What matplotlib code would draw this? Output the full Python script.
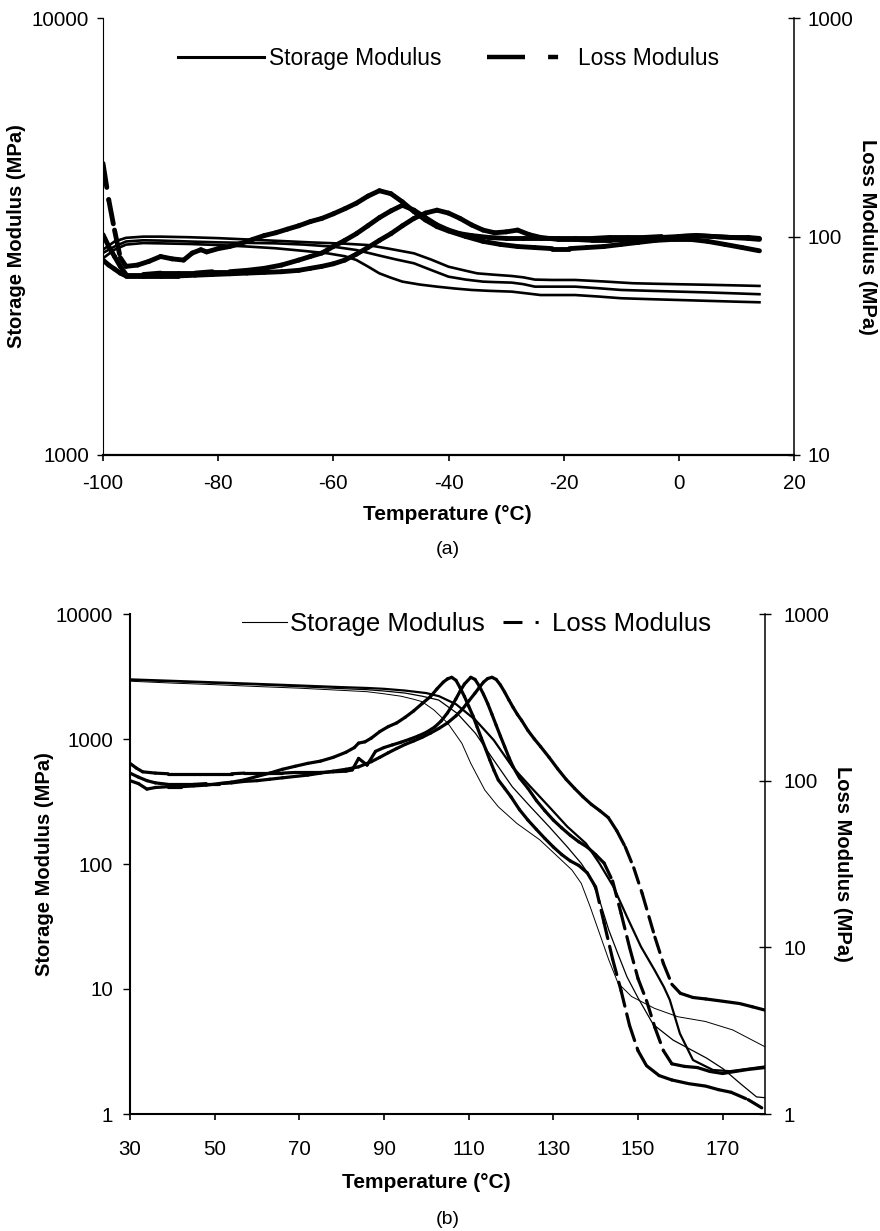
import matplotlib
matplotlib.use("Agg")
import matplotlib.pyplot as plt
from matplotlib.lines import Line2D
from matplotlib.ticker import NullLocator, FixedLocator, FixedFormatter

plt.rcParams['font.family'] = ['Liberation Sans', 'DejaVu Sans']

# ---------------- Panel (a): low-temperature DMA ----------------
a_T_S1 = [-100, -98, -96, -93, -90, -85, -80, -73, -64, -58, -54, -50, -46, -43, -40, -37, -35, -32, -29, -27,
          -25, -22, -18, -13, -8, -4, 0, 5, 10, 14]
a_S1 = [2950, 3080, 3140, 3160, 3160, 3150, 3135, 3105, 3066, 3045, 3023, 2960, 2894, 2800, 2697, 2640, 2604, 2585,
        2568, 2550, 2520, 2515, 2515, 2495, 2472, 2465, 2459, 2452, 2444, 2437]
a_T_S2 = [-100, -98, -96, -93, -90, -85, -80, -75, -70, -65, -60, -56, -52, -49, -46, -43, -40, -37, -34, -32,
          -29, -27, -25, -22, -18, -14, -10, -5, 0, 5, 10, 14]
a_S2 = [2900, 3000, 3080, 3100, 3095, 3080, 3066, 3058, 3050, 3030, 2997, 2945, 2860, 2800, 2746, 2650, 2559, 2520,
        2493, 2487, 2480, 2460, 2428, 2428, 2428, 2408, 2386, 2375, 2365, 2355, 2343, 2333]
a_T_S3 = [-100, -98, -96, -93, -90, -85, -80, -75, -70, -65, -61, -58, -56, -54, -52, -50, -48, -45, -42, -39,
          -36, -33, -29, -26, -24, -18, -14, -10, -5, 0, 5, 10, 14]
a_S3 = [2820, 2950, 3030, 3055, 3050, 3040, 3023, 3000, 2972, 2930, 2894, 2850, 2794, 2700, 2604, 2545, 2493, 2455,
        2428, 2405, 2386, 2375, 2365, 2340, 2323, 2323, 2305, 2284, 2273, 2263, 2253, 2243, 2236]

a_T_L1 = [-100, -99, -98, -97, -96, -94, -92, -90, -88, -86, -84.5, -83, -82, -80, -78, -76, -74, -72, -70, -68,
          -66, -64, -62, -60, -58, -56, -54, -52, -50, -48, -46, -44, -42, -40, -37, -34, -31, -28, -25, -22,
          -19, -16, -13, -10, -7, -4, -1, 2, 5, 8, 11, 14]
a_L1 = [216, 147, 107, 80, 73, 74, 77, 81, 79, 78, 84, 87, 85, 88, 90, 93, 97, 101, 104, 108,
        112, 117, 121, 127, 134, 142, 153, 162, 157, 144, 130, 119, 111, 106, 100, 95, 92, 90, 89, 88,
        88, 89, 90, 92, 94, 96, 97, 97, 95, 92, 89, 86]
a_T_L2 = [-100, -99, -98, -97, -96, -93, -90, -87, -84, -81, -78, -75, -72, -69, -66, -64, -62, -60, -58, -56,
          -54, -52, -50, -48, -46, -44, -42, -40, -38, -36, -33, -30, -27, -24, -21, -18, -15, -12, -9, -6,
          -3, 0, 3, 6, 9, 12, 14]
a_L2 = [102, 90, 81, 73, 67, 67, 68, 68, 68, 69, 69, 70, 71.5, 74, 78, 81, 84, 90, 96, 103,
        112, 122, 131, 139, 132, 122, 113, 107, 103, 101, 99, 98, 98, 98, 98, 98, 98, 99, 99, 99,
        100, 100, 101, 100, 99, 99, 98]
a_T_L3 = [-100, -99, -98, -97, -96, -93, -90, -87, -84, -81, -78, -75, -72, -69, -66, -64, -62, -60, -58, -56,
          -54, -52, -50, -48, -46, -44, -42, -40, -38, -36, -34, -32, -30, -28, -26, -24, -21, -18, -15, -12,
          -9, -6, -3, 0, 3, 6, 9, 12, 14]
a_L3 = [78, 74, 71, 68, 66, 66, 66, 66, 66.5, 67, 67.5, 68, 68.5, 69, 70, 71.5, 73, 75, 78, 83,
        89, 96, 103, 112, 121, 128, 132, 128, 121, 113, 107, 104, 105, 107, 102, 99, 97, 97, 96, 96,
        97, 98, 99, 100, 101, 100, 99, 98, 97]

a_xticks = [-100, -80, -60, -40, -20, 0, 20]
a_left_ticks = [1000, 10000]
a_right_ticks = [10, 100, 1000]

# ---------------- Panel (b): high-temperature DMA ----------------
b_T_S1 = [30, 40, 50, 60, 70, 80, 86, 90, 94, 97, 99, 101.8, 105.1, 108.4, 110.5, 113.8, 117, 121.4, 126.8, 131.1,
          134.4, 136.6, 138.7, 140.9, 143.1, 145.3, 148.5, 153.9, 159.4, 165.9, 172.4, 180]
b_S1 = [2900, 2800, 2720, 2630, 2550, 2450, 2390, 2300, 2200, 2080, 1990, 1706, 1334, 923, 638, 391, 287, 211, 156,
        114, 89.5, 70, 45.5, 27.9, 17.1, 11.1, 8.7, 7, 6, 5.5, 4.7, 3.45]
b_T_S2 = [30, 40, 50, 60, 70, 80, 86, 90, 95, 99, 102.9, 107.3, 111.6, 115.9, 120.3, 124.6, 129, 133.3, 136.6,
          138.7, 140.9, 143.1, 145.2, 147.4, 150, 153.6, 158.3, 166.2, 170.1, 174.1, 178, 180]
b_S2 = [2950, 2870, 2790, 2710, 2620, 2530, 2480, 2420, 2330, 2200, 2051, 1603, 1111, 679, 415, 287, 199, 137, 101,
        79, 51.5, 29.6, 19.3, 12.5, 8.5, 5.2, 3.9, 2.8, 2.3, 1.76, 1.37, 1.35]
b_T_S3 = [30, 40, 50, 60, 70, 80, 86, 90, 95, 100, 103, 107, 111.6, 115.9, 120.3, 124.6, 129, 133.3, 137.7, 140.9,
          144.2, 147.4, 150.7, 153.9, 156.1, 157.5, 159.9, 163, 167.7, 171.7, 176, 180]
b_S3 = [3000, 2920, 2840, 2760, 2680, 2600, 2560, 2520, 2440, 2330, 2200, 1900, 1419, 982, 600, 415, 287, 199, 146,
        101, 65.8, 37.8, 21.8, 14.2, 10.4, 8.2, 4.4, 2.7, 2.25, 2.2, 2.3, 2.4]

b_T_L1 = [30, 32, 34, 36, 39, 42, 45, 48, 51, 54, 57, 60, 63, 66, 69, 72, 75, 78, 81, 83,
          84, 85.5, 87, 89, 91, 93, 95, 97, 99, 101, 102.5, 104, 105, 106, 107, 108, 109, 110, 111, 112,
          113, 114, 115, 116, 117, 118.5, 120, 122, 124, 126, 128, 130, 132, 134, 136, 138, 140, 142, 144, 146,
          148, 150, 152, 155, 158, 162, 166, 169, 172, 176, 180]
b_L1 = [100, 96, 89, 91, 92, 92, 93, 94, 96, 98, 101, 106, 111, 117, 122, 127, 131, 138, 148, 158,
        168, 171, 180, 197, 211, 222, 240, 262, 290, 320, 355, 390, 408, 417, 400, 360, 320, 280, 245, 210,
        180, 155, 133, 115, 101, 90, 80, 67, 58, 51, 45, 40, 36, 33, 31, 28, 23, 14, 8.5, 5.5,
        3.4, 2.4, 1.95, 1.7, 1.6, 1.52, 1.47, 1.4, 1.35, 1.22, 1.06]
b_T_L2 = [30, 31.5, 33, 36, 39, 42, 45, 48, 51, 54, 57, 60, 63, 66, 69, 72, 75, 78, 81, 82.5,
          84, 86, 88, 90, 92, 94, 96, 98, 100, 102, 103.5, 105, 106, 107, 108, 109, 110.5, 111.5, 112.5, 113.5,
          114.5, 115.5, 116.5, 117.5, 118.5, 119.5, 120.5, 122, 124, 126, 128, 130, 132, 134, 136, 138, 140, 142,
          144, 146, 148, 150, 152, 154, 156, 158, 161, 164, 167, 170, 173, 176, 180]
b_L2 = [127, 119, 113, 111, 110, 110, 110, 110, 110, 110, 111, 111, 111, 111, 112, 112, 112, 113, 114, 116,
        136, 124, 150, 158, 164, 170, 177, 185, 195, 210, 228, 255, 280, 310, 345, 380, 417, 405, 370, 330,
        290, 250, 215, 185, 160, 138, 121, 104, 90, 76, 66, 58, 52, 47, 43, 40, 36, 32,
        25, 16, 10, 6.5, 4.8, 3.3, 2.4, 2.0, 1.93, 1.9, 1.8, 1.75, 1.8, 1.85, 1.9]
b_T_L3 = [30, 32, 34, 36, 39, 42, 45, 48, 51, 54, 57, 60, 63, 66, 69, 72, 75, 78, 81, 84,
          87, 89, 91, 93, 95, 97, 99, 101, 103, 105, 107, 108.5, 110, 111.5, 112.5, 113.5, 114.5, 115.5, 116.5, 117.5,
          118.5, 119.5, 120.5, 121.5, 122.5, 124, 125.5, 127, 129, 131, 133, 135, 137, 139, 141, 143, 145, 147,
          149, 151, 154, 156, 158, 160, 163, 166, 170, 174, 177, 180]
b_L3 = [111, 105, 100, 97, 95, 95, 95, 96, 96, 97, 99, 100, 102, 104, 106, 108, 111, 114, 117, 121,
        130, 138, 147, 156, 165, 173, 182, 193, 206, 222, 245, 268, 300, 335, 362, 390, 410, 417, 405, 375,
        340, 305, 275, 250, 230, 200, 178, 160, 138, 118, 102, 90, 80, 72, 66, 60, 50, 40,
        30, 21, 11.5, 8, 6, 5.3, 5.0, 4.9, 4.75, 4.6, 4.4, 4.2]

b_xticks = [30, 50, 70, 90, 110, 130, 150, 170]
b_left_ticks = [1, 10, 100, 1000, 10000]
b_right_ticks = [1, 10, 100, 1000]

legend_labels = ['Storage Modulus', 'Loss Modulus']


def excel_dashed(ax, xs, ys, lw):
    """Loss-modulus line: dash pattern restarts on every data segment (spreadsheet style)."""
    for i in range(len(xs) - 1):
        ax.plot(xs[i:i + 2], ys[i:i + 2], color='black', lw=lw, linestyle=(0, (5, 2.5)),
                dash_capstyle='round', solid_capstyle='round')


def style_axes(ax, ax2, xticks, lticks, rticks, left_w, bottom_w, lpad, xpad, rpad, llen):
    for a in (ax, ax2):
        a.set_yscale('log')
    ax.spines['top'].set_visible(False)
    ax.spines['right'].set_visible(False)
    ax2.spines['top'].set_visible(False)
    ax2.spines['left'].set_visible(False)
    ax2.spines['bottom'].set_visible(False)
    ax.spines['left'].set_linewidth(left_w)
    ax.spines['bottom'].set_linewidth(bottom_w)
    ax2.spines['right'].set_linewidth(1.1)
    ax.set_xticks(xticks)
    ax.set_xticklabels([str(t) for t in xticks])
    ax.yaxis.set_major_locator(FixedLocator(lticks))
    ax.yaxis.set_major_formatter(FixedFormatter([str(t) for t in lticks]))
    ax2.yaxis.set_major_locator(FixedLocator(rticks))
    ax2.yaxis.set_major_formatter(FixedFormatter([str(t) for t in rticks]))
    for a in (ax, ax2):
        a.yaxis.set_minor_locator(NullLocator())
        a.xaxis.set_minor_locator(NullLocator())
    ax.tick_params(axis='y', direction='out', length=llen, width=1.0, labelsize=14.8, pad=lpad)
    ax.tick_params(axis='x', direction='out', length=4, width=1.2, labelsize=14.8, pad=xpad)
    ax2.tick_params(axis='y', direction='inout', length=8, width=1.0, labelsize=14.8, pad=rpad)


fig = plt.figure(figsize=(8.8, 12.31), dpi=100)
fig.patch.set_facecolor('white')

# ---------------- (a) ----------------
axa = fig.add_axes([103 / 880, 1 - 455 / 1231, 691 / 880, 437 / 1231])
axa2 = axa.twinx()
for T, S in ((a_T_S1, a_S1), (a_T_S2, a_S2), (a_T_S3, a_S3)):
    axa.plot(T, S, color='black', lw=1.9)
for T, L in ((a_T_L1, a_L1), (a_T_L2, a_L2), (a_T_L3, a_L3)):
    excel_dashed(axa2, T, L, 3.5)
axa.set_xlim(-100, 20)
axa.set_ylim(1000, 10000)
axa2.set_ylim(10, 1000)
style_axes(axa, axa2, a_xticks, a_left_ticks, a_right_ticks, 0.8, 1.6, 6, 10, 6, 4)
axa.set_xlabel('Temperature (°C)', fontsize=15, fontweight='bold', va='center')
axa.xaxis.set_label_coords(0.499, -0.137)
axa.set_ylabel('Storage Modulus (MPa)', fontsize=14.5, fontweight='bold', va='center')
axa.yaxis.set_label_coords(-0.1245, 0.5)
axa2.set_ylabel('Loss Modulus (MPa)', fontsize=14.5, fontweight='bold', rotation=270, va='center')
axa2.yaxis.set_label_coords(1.106, 0.5)
ha_s = Line2D([], [], color='black', lw=2.2)
ha_l = Line2D([], [], color='black', lw=3.2, dashes=(8.55, 5.2, 2.25, 5.2))
axa2.legend([ha_s, ha_l], legend_labels, loc='center', bbox_to_anchor=(0.5, 0.908), ncol=2,
            frameon=False, fontsize=16.4, handlelength=3.77, handletextpad=0.22, columnspacing=2.0,
            borderpad=0, borderaxespad=0)
fig.text(448 / 880, 1 - 550 / 1231, '(a)', ha='center', va='center', fontsize=14)

# ---------------- (b) ----------------
axb = fig.add_axes([130 / 880, 1 - 1114 / 1231, 635 / 880, 500 / 1231])
axb2 = axb.twinx()
for T, S, w in ((b_T_S1, b_S1, 0.7), (b_T_S2, b_S2, 0.9), (b_T_S3, b_S3, 1.6)):
    axb.plot(T, S, color='black', lw=w)
for T, L in ((b_T_L1, b_L1), (b_T_L2, b_L2), (b_T_L3, b_L3)):
    excel_dashed(axb2, T, L, 2.3)
axb.set_xlim(30, 180)
axb.set_ylim(1, 10000)
axb2.set_ylim(1, 1000)
style_axes(axb, axb2, b_xticks, b_left_ticks, b_right_ticks, 1.5, 1.5, 7, 15, 9, 5)
axb.set_xlabel('Temperature (°C)', fontsize=15, fontweight='bold', va='center')
axb.xaxis.set_label_coords(0.467, -0.137)
axb.set_ylabel('Storage Modulus (MPa)', fontsize=14.5, fontweight='bold', va='center')
axb.yaxis.set_label_coords(-0.134, 0.5)
axb2.set_ylabel('Loss Modulus (MPa)', fontsize=14.5, fontweight='bold', rotation=270, va='center')
axb2.yaxis.set_label_coords(1.1228, 0.5)
hb_s = Line2D([], [], color='black', lw=0.8)
hb_l = Line2D([], [], color='black', lw=2.2, dashes=(6.2, 4.3, 1.0, 4.3))
axb2.legend([hb_s, hb_l], legend_labels, loc='center', bbox_to_anchor=(0.545, 0.98), ncol=2,
            frameon=False, fontsize=18.5, handlelength=1.75, handletextpad=0.14, columnspacing=0.7,
            borderpad=0, borderaxespad=0)
fig.text(448 / 880, 1 - 1219 / 1231, '(b)', ha='center', va='center', fontsize=14)

fig.savefig('out.png', dpi=100, facecolor='white')
